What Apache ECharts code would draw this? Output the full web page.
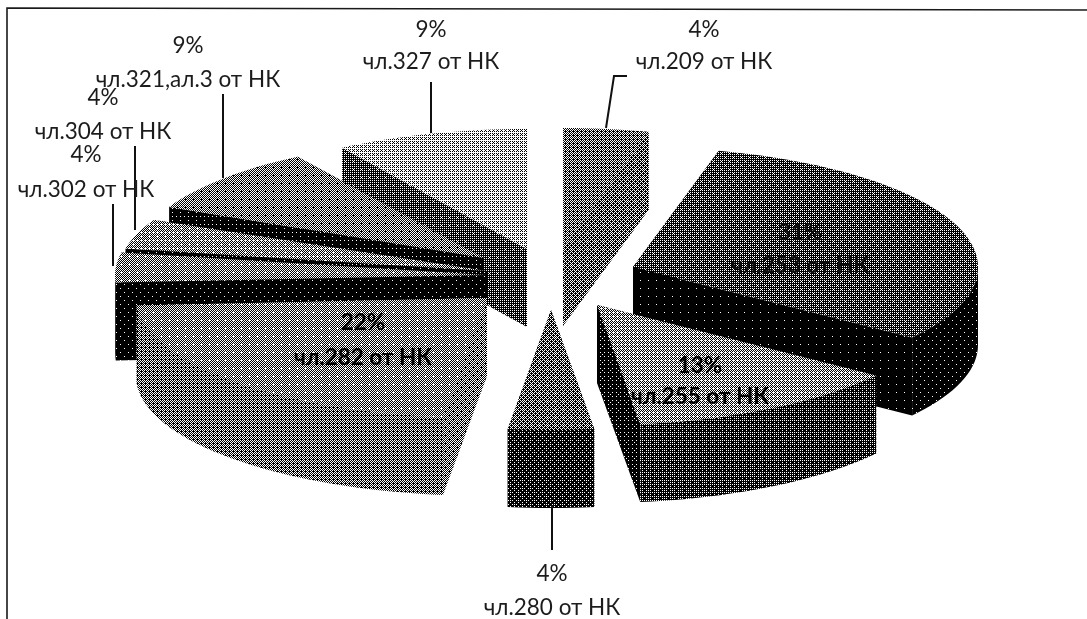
<!DOCTYPE html>
<html><head><meta charset="utf-8">
<style>html,body{margin:0;padding:0;background:#fff}#c{width:1087px;height:619px}</style>
<script src="https://cdn.jsdelivr.net/npm/echarts@6/dist/echarts.min.js"></script>
</head><body><div id="c"></div>
<script>
// ---- data ----
const categories = ['чл.209 от НК','чл.253 от НК','чл.255 от НК','чл.280 от НК','чл.282 от НК','чл.302 от НК','чл.304 от НК','чл.321,ал.3 от НК','чл.327 от НК'];
const shares = [4,31,13,4,22,4,4,9,9];
const percentLabels = ['4%','31%','13%','4%','22%','4%','4%','9%','9%'];

// ---- layout and style (apex of each exploded slice, horizontal radius) ----
const apexX = [563,633,597,551,487,487,487,484,527];
const apexY = [248,267,305,310,298,275,271,258,249];
const radX  = [345,345,345,345,351,372,368,348,345];
const radY = 120, depth = 78;
const topGray  = [112,72,142,100,132,132,140,124,176];
const cutGray  = [98,2,20,48,118,6,10,10,66];
const outerGray= [98,6,52,40,112,6,10,10,66];
const drawOrder = [0,8,1,7,6,5,2,3,4];
const labelX = [704,800,700,552,363,86,103,188,431];
const labelY1 = [30,233,366,574,323,155,98,46,30];
const labelY2 = [62,266,397,608,358,190,132,80,62];
const labelFill = ['#1c1c1c','#0c0c0c','#000','#1c1c1c','#000','#1c1c1c','#1c1c1c','#1c1c1c','#1c1c1c'];
const labelWeight = ['normal','bold','bold','normal','bold','normal','normal','normal','normal'];
const leaderLines = [
  [[627,76],[614,76],[606,128]],
  [[431,82],[431,133]],
  [[223,94],[223,178]],
  [[135,146],[135,230]],
  [[113,204],[113,266]],
  [[552,505],[552,550]]
];

// ordered-dither tile, like the halftone of the scan
const bayer4 = [[0,8,2,10],[12,4,14,6],[3,11,1,9],[15,7,13,5]];
const tiles = {};
function dither(gray){
  const level = Math.round(gray/255*64);
  if(tiles[level]) return tiles[level];
  const cv = document.createElement('canvas'); cv.width = cv.height = 8;
  const g = cv.getContext('2d');
  for(let y=0;y<8;y++)for(let x=0;x<8;x++){
    const t = 4*bayer4[y%4][x%4] + [[0,2],[3,1]][y>>2][x>>2];
    g.fillStyle = t < level ? '#fff' : '#000';
    g.fillRect(x,y,1,1);
  }
  return tiles[level] = {image:cv, repeat:'repeat'};
}

let cum = 0;
const startAngle = shares.map(v => { const a = cum; cum += v; return a/100*360; });
const rad = d => d*Math.PI/180;

function sliceShapes(i){
  const a0 = startAngle[i], a1 = a0 + shares[i]/100*360;
  const cx = apexX[i], cy = apexY[i], rx = radX[i];
  const pt = (a,dy=0) => [cx+rx*Math.sin(rad(a)), cy-radY*Math.cos(rad(a))+dy];
  const arc = (from,to,dy=0) => { const out=[]; const n=Math.max(2,Math.ceil((to-from)/2));
    for(let k=0;k<=n;k++) out.push(pt(from+(to-from)*k/n,dy)); return out; };
  const parts = [];
  const poly = (points,gray) => parts.push({type:'polygon',shape:{points},style:{fill:dither(gray),stroke:null}});
  [a0,a1].forEach(a => poly([[cx,cy],pt(a),pt(a,depth),[cx,cy+depth]],cutGray[i]));
  const f0 = Math.max(a0,90), f1 = Math.min(a1,270);
  if(f1>f0) poly(arc(f0,f1).concat(arc(f0,f1,depth).reverse()),outerGray[i]);
  poly([[cx,cy]].concat(arc(a0,a1)),topGray[i]);
  return parts;
}

const chart = echarts.init(document.getElementById('c'),null,{renderer:'canvas'});
chart.setOption({
  animation:false,
  backgroundColor:'#fff',
  graphic:[
    {type:'polyline',silent:true,shape:{points:[[7,619],[7,8],[1087,10]]},style:{stroke:'#1a1a1a',lineWidth:1.6,fill:null}}
  ],
  series:[
    {
      type:'custom',
      coordinateSystem:'none',
      silent:true,
      data:drawOrder.map(i=>[i,shares[i]]),
      renderItem:(params,api)=>({type:'group',children:sliceShapes(api.value(0))})
    },
    {
      type:'custom',
      coordinateSystem:'none',
      silent:true,
      data:leaderLines.map((l,i)=>[i]),
      renderItem:(params,api)=>({type:'polyline',shape:{points:leaderLines[api.value(0)]},style:{stroke:'#111',lineWidth:2,fill:null}}),
      z:3
    },
    {
      type:'custom',
      coordinateSystem:'none',
      silent:true,
      z:4,
      data:categories.map((c,i)=>[i]),
      renderItem:(params,api)=>{
        const i=api.value(0);
        const font = labelWeight[i]+' 22.5px Lato, "Noto Sans", sans-serif';
        const t=(s,y)=>({type:'text',x:labelX[i],y,style:{text:s,font,fill:labelFill[i],textAlign:'center',textVerticalAlign:'middle'}});
        return {type:'group',children:[t(percentLabels[i],labelY1[i]),t(categories[i],labelY2[i])]};
      }
    }
  ]
});
</script></body></html>
